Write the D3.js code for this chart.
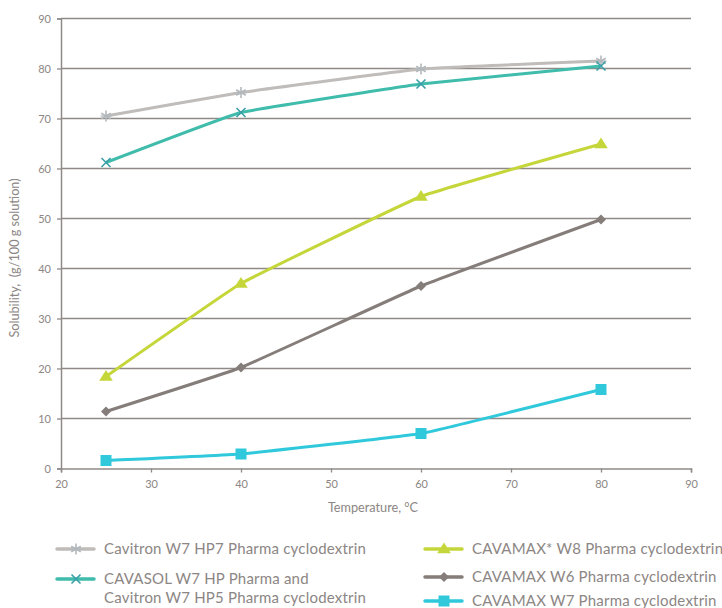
<!DOCTYPE html>
<html><head><meta charset="utf-8">
<script src="https://cdn.jsdelivr.net/npm/d3@7"></script>
<style>
body{margin:0;background:#fff;}
text{font-family:"Lato","Noto Sans",sans-serif;fill:#8c8684;}
</style></head>
<body><svg id="c" width="722" height="608"></svg>
<script>
const temps = [25, 40, 60, 80];
const hp7 = [70.5, 75.2, 79.9, 81.5];
const cavasol = [61.2, 71.2, 76.9, 80.5];
const w8 = [18.4, 37.0, 54.4, 64.9];
const w6 = [11.4, 20.2, 36.5, 49.8];
const w7 = [1.6, 2.9, 7.0, 15.8];
const xTicks = [20, 30, 40, 50, 60, 70, 80, 90];
const yTicks = [0, 10, 20, 30, 40, 50, 60, 70, 80, 90];
const seriesNames = [
  ["Cavitron W7 HP7 Pharma cyclodextrin"],
  ["CAVASOL W7 HP Pharma and", "Cavitron W7 HP5 Pharma cyclodextrin"],
  ["CAVAMAX* W8 Pharma cyclodextrin"],
  ["CAVAMAX W6 Pharma cyclodextrin"],
  ["CAVAMAX W7 Pharma cyclodextrin"]
];
const xLabel = "Temperature, °C";
const yLabel = "Solubility,  (g/100 g solution)";

const series = [
  {vals: hp7, color: "#bfbcba", mcolor:"#b3b8bc", marker: "star"},
  {vals: cavasol, color: "#3fbcab", mcolor:"#3a9fa6", marker: "x"},
  {vals: w8, color: "#c5d63a", mcolor:"#c5d63a", marker: "tri"},
  {vals: w6, color: "#857d7a", mcolor:"#857d7a", marker: "diamond"},
  {vals: w7, color: "#30c9dc", mcolor:"#30c9dc", marker: "square"}
];

const svg = d3.select("#c");
const x = d3.scaleLinear().domain([20, 90]).range([61, 691]);
const y = d3.scaleLinear().domain([0, 90]).range([468.5, 18.5]);
const grid = "#8f8a87";

svg.append("g").selectAll("line").data(yTicks.filter(d=>d>0)).join("line")
  .attr("x1", x(20)).attr("x2", x(90))
  .attr("y1", d=>y(d)).attr("y2", d=>y(d))
  .attr("stroke", grid).attr("stroke-width", 1.3);

const yAxis = svg.append("g").attr("transform", `translate(${x(20)},0)`)
  .call(d3.axisLeft(y).tickValues(yTicks).tickSize(4).tickPadding(6));
const xAxis = svg.append("g").attr("transform", `translate(0,${y(0)})`)
  .call(d3.axisBottom(x).tickValues(xTicks).tickSize(4).tickPadding(8));
[yAxis, xAxis].forEach(a=>{
  a.select(".domain").attr("stroke", grid).attr("stroke-width", 1.5);
  a.selectAll(".tick line").attr("stroke", grid).attr("stroke-width", 1.3);
  a.selectAll(".tick text").style("font-size", "11px").attr("fill", "#9a9492");
});

svg.append("text").attr("x", 373).attr("y", 512).attr("text-anchor", "middle")
  .style("font-size", "12.7px").text(xLabel);
svg.append("text").attr("transform", "translate(19,258) rotate(-90)")
  .attr("text-anchor", "middle").style("font-size", "12.7px").style("white-space", "pre").text(yLabel);

function drawMarker(g, type, cx, cy, color, s) {
  s = s || 1;
  if (type === "star") {
    const r = 5.5*s;
    [0, 60, 120].forEach(a=>{
      const rad = a*Math.PI/180 + Math.PI/2;
      g.append("line").attr("x1", cx - r*Math.cos(rad)).attr("y1", cy - r*Math.sin(rad))
        .attr("x2", cx + r*Math.cos(rad)).attr("y2", cy + r*Math.sin(rad))
        .attr("stroke", color).attr("stroke-width", 1.6);
    });
    g.append("line").attr("x1", cx-r).attr("x2", cx+r).attr("y1", cy).attr("y2", cy)
      .attr("stroke", color).attr("stroke-width", 1.2);
  } else if (type === "x") {
    const r = 4.5*s;
    g.append("path").attr("d", `M${cx-r},${cy-r}L${cx+r},${cy+r}M${cx-r},${cy+r}L${cx+r},${cy-r}`)
      .attr("stroke", color).attr("stroke-width", 1.6);
  } else if (type === "tri") {
    const r = 6.5*s;
    g.append("path").attr("d", `M${cx},${cy-r}L${cx+r*1.05},${cy+r*0.65}L${cx-r*1.05},${cy+r*0.65}Z`).attr("fill", color);
  } else if (type === "diamond") {
    const r = 5*s;
    g.append("path").attr("d", `M${cx},${cy-r}L${cx+r},${cy}L${cx},${cy+r}L${cx-r},${cy}Z`).attr("fill", color);
  } else if (type === "square") {
    const r = 5.5*s;
    g.append("rect").attr("x", cx-r).attr("y", cy-r).attr("width", 2*r).attr("height", 2*r).attr("fill", color);
  }
}

const line = d3.line().x(d=>x(d[0])).y(d=>y(d[1])).curve(d3.curveCardinal.tension(0.75));
const plot = svg.append("g");
series.forEach(s=>{
  const pts = temps.map((t,i)=>[t, s.vals[i]]);
  plot.append("path").attr("d", line(pts)).attr("fill", "none")
    .attr("stroke", s.color).attr("stroke-width", 3);
});
series.forEach(s=>{
  temps.forEach((t,i)=>drawMarker(plot, s.marker, x(t), y(s.vals[i]), s.mcolor));
});

const legPos = [
  {lx: 57, tx: 104, y: 549},
  {lx: 57, tx: 104, y: 579},
  {lx: 425, tx: 472, y: 549},
  {lx: 425, tx: 472, y: 577},
  {lx: 425, tx: 472, y: 601}
];
const leg = svg.append("g");
series.forEach((s,i)=>{
  const p = legPos[i];
  leg.append("line").attr("x1", p.lx).attr("x2", p.lx+37).attr("y1", p.y).attr("y2", p.y)
    .attr("stroke", s.color).attr("stroke-width", 3.5).attr("stroke-linecap", "round");
  drawMarker(leg, s.marker, p.lx+19, p.y, s.mcolor, 1);
  seriesNames[i].forEach((ln, j)=>{
    leg.append("text").attr("x", p.tx).attr("y", p.y + 5 + j*19)
      .style("font-size", "15px").style("letter-spacing", "0.2px").text(ln);
  });
});
</script></body></html>
